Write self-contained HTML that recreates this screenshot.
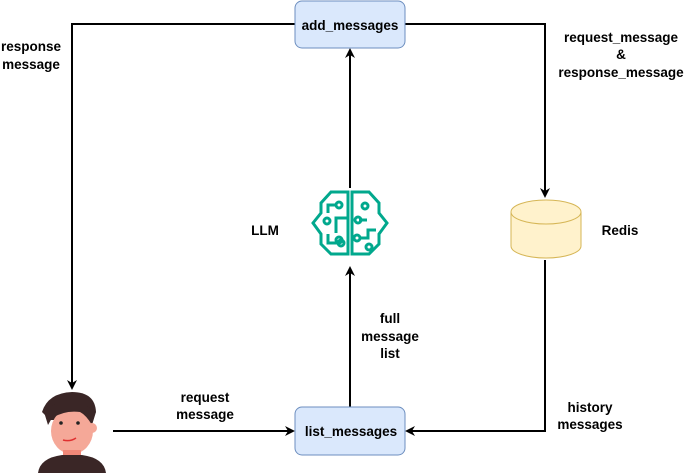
<!DOCTYPE html>
<html><head><style>body{margin:0;background:#fff}svg{display:block}text{font-family:"Liberation Sans",sans-serif;font-weight:bold;font-size:13.5px;fill:#000}</style></head><body>
<svg width="686" height="473" viewBox="0 0 686 473">
<defs><marker id="a" markerWidth="10" markerHeight="10" refX="8" refY="5" orient="auto" markerUnits="userSpaceOnUse"><path d="M0,0 L10,5 L0,10 L3,5 Z" fill="#000"/></marker></defs>
<g stroke="#000" stroke-width="2" fill="none">
<path d="M295,24 H72 V388" marker-end="url(#a)"/>
<path d="M405,24 H545 V196" marker-end="url(#a)"/>
<path d="M350,188 V50" marker-end="url(#a)"/>
<path d="M350,407 V268" marker-end="url(#a)"/>
<path d="M113,431 H293" marker-end="url(#a)"/>
<path d="M545,260 V431 H407" marker-end="url(#a)"/>
</g>
<rect x="295" y="1" width="110" height="47" rx="7" fill="#dae8fc" stroke="#6c8ebf"/>
<text x="350" y="30" text-anchor="middle" font-size="14.5">add_messages</text>
<rect x="295" y="407" width="110" height="48" rx="7" fill="#dae8fc" stroke="#6c8ebf"/>
<text x="351" y="436" text-anchor="middle" font-size="14.5">list_messages</text>
<path d="M511,212 V246 A35,12 0 0 0 581,246 V212" fill="#fff2cc" stroke="#d6b656"/>
<ellipse cx="546" cy="212" rx="35" ry="12" fill="#fff2cc" stroke="#d6b656"/>
<text x="620" y="235" text-anchor="middle" font-size="17">Redis</text>
<text x="265" y="235" text-anchor="middle" font-size="17">LLM</text>
<g stroke="#01a88d" stroke-width="3" fill="none">
<path d="M348,192 H331 L321,203 V213 L313,223 L321,234 V244 L331,254 H348 Z"/>
<path d="M352,192 H369 L379,203 V213 L387,223 L379,234 V244 L369,254 H352 Z"/>
<path d="M328,213 V205 H336"/><circle cx="339" cy="205" r="3"/>
<circle cx="327" cy="221" r="3"/><path d="M336,233 V218 H347"/><circle cx="339" cy="240" r="3"/>
<path d="M328,234 V243 H337"/><circle cx="341" cy="243" r="3"/>
<circle cx="365" cy="206" r="3"/><path d="M359,220 H367"/><circle cx="358" cy="220" r="3"/>
<circle cx="357" cy="238" r="3"/><path d="M360,238 H368 V230 H376"/><circle cx="369" cy="247" r="3"/>
</g>
<path d="M42,412 Q48,393 72,392 Q95,392 96,412 L90,420 L50,420 Z" fill="#3a2626"/>
<ellipse cx="72" cy="431" rx="21" ry="23" fill="#f5a898"/>
<path d="M44,412 Q55,400 73,402 Q86,404 96,412 L92,425 Q86,415 80,412 Q65,410 52,418 L48,425 Z" fill="#3a2626"/>
<circle cx="92" cy="428" r="5" fill="#f5a898"/>
<rect x="63" y="450" width="18" height="12" fill="#f08878"/>
<path d="M38,473 Q40,458 62,455 L82,455 Q104,458 106,473 Z" fill="#3a2626"/>
<circle cx="61" cy="423" r="1.8" fill="#222"/><circle cx="78" cy="423" r="1.8" fill="#222"/>
<path d="M63,440 Q70,442 76,438" stroke="#e03030" fill="none" stroke-width="1.5"/>
<text x="31" y="51" text-anchor="middle">response</text><text x="31" y="69" text-anchor="middle">message</text>
<text x="621" y="42" text-anchor="middle">request_message</text><text x="621" y="59" text-anchor="middle">&amp;</text><text x="621" y="77" text-anchor="middle">response_message</text>
<text x="390" y="323" text-anchor="middle">full</text><text x="390" y="341" text-anchor="middle">message</text><text x="390" y="358" text-anchor="middle">list</text>
<text x="205" y="402" text-anchor="middle">request</text><text x="205" y="419" text-anchor="middle">message</text>
<text x="590" y="412" text-anchor="middle">history</text><text x="590" y="429" text-anchor="middle">messages</text>
</svg></body></html>
